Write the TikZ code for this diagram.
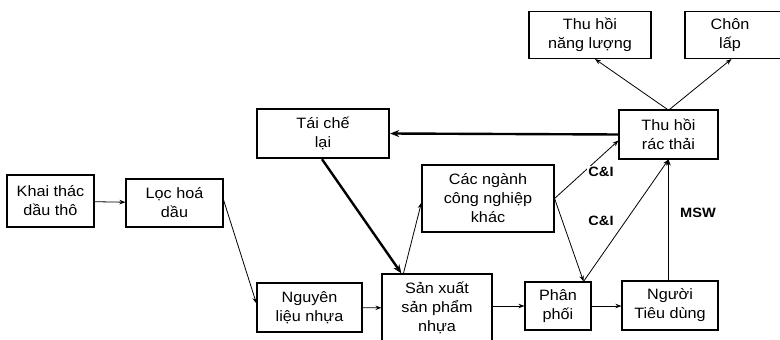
\documentclass[tikz,border=0pt]{standalone}
\usepackage{fontspec}
\setmainfont[FakeStretch=1.08]{Liberation Sans}
\usetikzlibrary{arrows.meta,calc}
\begin{document}
\begin{tikzpicture}[x=1pt,y=-1pt,
 box/.style={draw, line width=1.1pt, inner sep=0pt, align=center, font=\fontsize{15}{19}\selectfont},
 thickbox/.style={box, line width=2.4pt},
 txt/.style={inner sep=0pt, align=center, font=\fontsize{15}{19}\selectfont},
 arr/.style={line width=0.8pt, -{Stealth[length=6pt,width=4.5pt]}},
 thickarr/.style={line width=2.4pt, -{Stealth[length=9pt,width=7pt]}},
 lbl/.style={inner sep=1pt, font=\fontsize{13.5}{15}\selectfont\bfseries}]
\clip (0,0) rectangle (780,340);
\fill[white] (0,0) rectangle (780,340);

% boxes
\node[box, minimum width=87pt, minimum height=52pt] (khai) at (50.5,201) {Khai thác\\dầu thô};
\node[box, minimum width=97pt, minimum height=48pt] (loc) at (174.5,203) {Lọc hoá\\dầu};
\node[thickbox, minimum width=132pt, minimum height=49pt] (taiche) at (323,133.5) {Tái chế\\lại};
\node[box, minimum width=132pt, minimum height=67pt] (cacnganh) at (488,198.5) {Các ngành\\công nghiệp\\khác};
\node[box, minimum width=122pt, minimum height=47pt] (nangluong) at (590,35) {Thu hồi\\năng lượng};
\node[box, minimum width=105pt, minimum height=47pt] (chonlap) at (737.5,35) {};
\node[txt] (chonlaptxt) at (730,35) {Chôn\\lấp};
\node[box, minimum width=99pt, minimum height=49pt] (thuhoi) at (668.5,134.5) {Thu hồi\\rác thải};
\node[box, minimum width=105pt, minimum height=49pt] (nguyenlieu) at (309.5,307.5) {Nguyên\\liệu nhựa};
\node[box, minimum width=110pt, minimum height=68pt] (sanxuat) at (437,308) {Sản xuất\\sản phẩm\\nhựa};
\node[box, minimum width=66pt, minimum height=48pt] (phanphoi) at (558,306) {Phân\\phối};
\node[box, minimum width=96pt, minimum height=49pt] (nguoitd) at (670,305.5) {Người\\Tiêu dùng};

% helper coordinates
\coordinate (ppTop) at ($(phanphoi.north east)+(-8,0)$);
\coordinate (thSW) at ($(thuhoi.west)+(0,6)$);
\coordinate (ntTop) at (nguoitd.north -| thuhoi.south);
\coordinate (nlS) at ($(nangluong.south)+(5,0)$);
\coordinate (clS) at ($(chonlap.south west)+(47,0)$);
\coordinate (thN1) at ($(thuhoi.north)+(-1,0)$);
\coordinate (thN2) at ($(thuhoi.north)+(1,0)$);
\coordinate (sxTop) at ($(sanxuat.north west)+(20,0)$);
\coordinate (sxTop2) at ($(sanxuat.north west)+(22,0)$);
\coordinate (cnW) at ($(cacnganh.west)+(0,4)$);
\coordinate (locE) at ($(loc.east)+(0,-3)$);
\coordinate (nlW) at ($(nguyenlieu.west)+(0,-4)$);

% connectors
\draw[arr] (khai) -- (loc);
\draw[arr] (locE) -- (nlW);
\draw[arr] (nguyenlieu) -- (sanxuat);
\draw[thickarr] ($(taiche.south)+(-1,0)$) -- (sxTop);
\draw[arr] (sxTop2) -- (cnW);
\draw[arr] (sanxuat.east |- phanphoi) -- (phanphoi.west);
\draw[arr] (phanphoi) -- (nguoitd.west |- phanphoi);
\draw[arr] (cacnganh.east) -- (ppTop);
\draw[arr] (cacnganh.east) -- (thSW);
\node[lbl, fill=white] (ci1) at (601,172) {C\&I};
\draw[arr] (ppTop) -- (thuhoi.south);
\node[lbl] (ci2) at (601,221) {C\&I};
\draw[arr] (ntTop) -- (thuhoi.south);
\node[lbl] (msw) at (698,213) {MSW};
\draw[thickarr] (thuhoi.west) -- (taiche.east);
\draw[arr] (thN1) -- (nlS);
\draw[arr] (thN2) -- (clS);
\end{tikzpicture}
\end{document}
